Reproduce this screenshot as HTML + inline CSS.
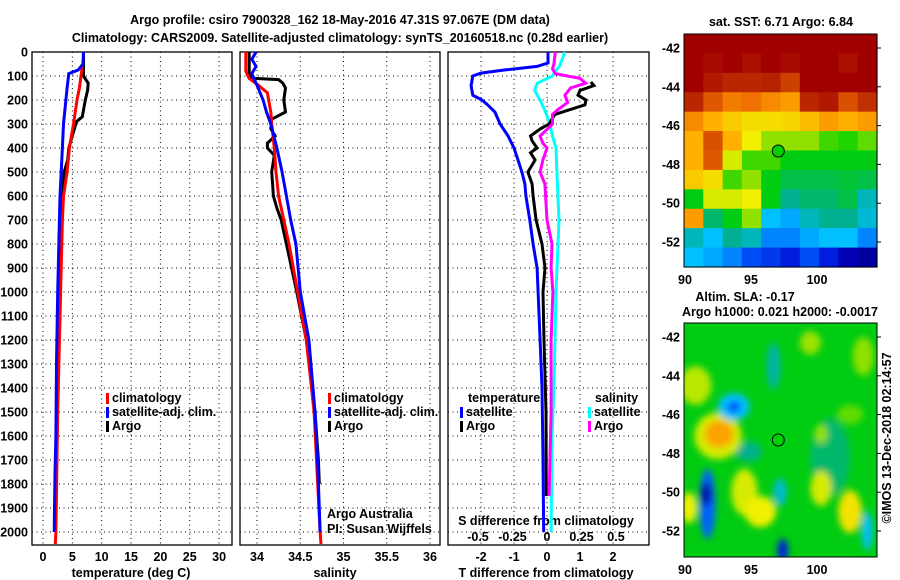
<!DOCTYPE html>
<html><head><meta charset="utf-8"><style>
html,body{margin:0;padding:0;background:#fff;}
svg{display:block;}
text{font-family:"Liberation Sans",Arial,sans-serif;font-weight:bold;font-size:12.5px;fill:#000;}
</style></head><body>
<svg id="s" width="900" height="580" viewBox="0 0 900 580" xmlns="http://www.w3.org/2000/svg">
<defs>
<clipPath id="c1"><rect x="32" y="34" width="200" height="511"/></clipPath>
<clipPath id="c2"><rect x="240" y="34" width="200" height="511"/></clipPath>
<clipPath id="c3"><rect x="448" y="34" width="201" height="511"/></clipPath>
<clipPath id="cm2"><rect x="684" y="323" width="193" height="234"/></clipPath>
<filter id="bl" x="-50%" y="-50%" width="200%" height="200%"><feGaussianBlur stdDeviation="3.5"/></filter>
</defs>
<text x="340" y="24" text-anchor="middle" font-size="13.5">Argo profile: csiro 7900328_162 18-May-2016 47.31S 97.067E (DM data)</text>
<text x="340" y="42" text-anchor="middle" font-size="13.5">Climatology: CARS2009. Satellite-adjusted climatology: synTS_20160518.nc (0.28d earlier)</text>
<g id="g"></g>
</svg>
<script>
// ---- data ----
const depthTicks=[0,100,200,300,400,500,600,700,800,900,1000,1100,1200,1300,1400,1500,1600,1700,1800,1900,2000];
const tempTicks=[0,5,10,15,20,25,30];
const salTicks=[34,34.5,35,35.5,36];
const salTickLabels=["34","34.5","35","35.5","36"];
const dTTicks=[-2,-1,0,1,2];
const dSTicks=[-0.5,-0.25,0,0.25,0.5];
const dSTickLabels=["-0.5","-0.25","0","0.25","0.5"];

const tSatDepth=[0,50,75,90,150,300,450,600,750,1000,1300,1600,1750,2000];
const tSatVal=[6.9,6.8,6.0,4.4,4.1,3.5,3.2,2.9,2.75,2.5,2.3,2.2,2.05,1.9];
const tClimDepth=[60,150,200,300,400,500,600,700,1000,1500,2000,2050];
const tClimVal=[6.7,6.2,5.8,5.2,4.5,4.1,3.5,3.3,3.0,2.5,2.2,2.1];
const tArgoDepth=[0,100,130,160,200,270,290,350,400,450,500,550,700,1000,1300,1600,1960];
const tArgoVal=[6.9,6.9,7.7,7.6,7.2,6.7,5.7,5.0,4.4,4.2,3.6,3.5,3.2,2.8,2.5,2.3,2.1];

const sSatDepth=[0,30,60,90,130,200,250,300,400,500,600,700,800,1000,1200,1500,1700,2000];
const sSatVal=[33.99,33.94,33.99,33.94,33.99,34.07,34.11,34.16,34.23,34.29,34.34,34.39,34.45,34.5,34.6,34.67,34.7,34.73];
const sClimDepth=[0,80,110,140,170,250,300,400,500,600,700,800,1000,1200,1500,2000,2050];
const sClimVal=[33.87,33.87,33.91,34.02,34.12,34.16,34.17,34.2,34.22,34.25,34.31,34.37,34.47,34.57,34.66,34.73,34.74];
const sArgoDepth=[0,100,110,115,130,150,200,250,280,320,350,380,400,430,500,550,600,650,700,800,1000,1200,1500,1700,1800];
const sArgoVal=[33.91,33.91,33.97,34.25,34.3,34.33,34.31,34.33,34.17,34.16,34.21,34.12,34.12,34.2,34.17,34.18,34.19,34.23,34.28,34.34,34.46,34.57,34.67,34.71,34.72];

const dTSatDepth=[0,46,60,75,88,100,140,180,200,220,250,300,350,400,450,500,550,600,700,800,900,1000,1200,1400,1700,2000];
const dTSatVal=[0.03,0.03,-0.3,-1.3,-2.0,-2.25,-2.3,-2.25,-1.97,-1.8,-1.58,-1.42,-1.18,-1.0,-0.88,-0.76,-0.67,-0.64,-0.52,-0.42,-0.3,-0.27,-0.21,-0.15,-0.12,-0.1];
const dTArgoDepth=[125,140,160,180,200,220,240,260,300,320,350,370,400,420,450,500,550,600,700,800,900,1000,1200,1500,1850];
const dTArgoVal=[1.33,1.42,1.0,0.94,1.18,1.15,0.7,0.24,0.06,-0.2,-0.5,-0.45,-0.3,-0.5,-0.36,-0.58,-0.45,-0.42,-0.33,-0.15,-0.06,-0.12,-0.09,-0.03,-0.02];
const dSSatDepth=[0,30,60,80,100,130,160,200,250,300,350,400,500,700,800,1000,1200,1400,1600,2000];
const dSSatVal=[0.13,0.11,0.09,0.06,0.04,-0.07,-0.09,-0.05,-0.01,0.02,0.04,0.065,0.072,0.087,0.08,0.065,0.058,0.05,0.036,0.03];
const dSArgoDepth=[0,50,70,90,110,130,150,180,210,240,260,300,350,380,400,450,500,550,600,700,800,900,1000,1200,1500,1850];
const dSArgoVal=[0.06,0.05,0.04,0.06,0.24,0.28,0.17,0.13,0.15,0.08,0.04,0.04,-0.05,-0.03,0,-0.03,-0.05,-0.015,-0.01,0,0.036,0.03,0.043,0.03,0.03,0.015];

const latTicks=[-42,-44,-46,-48,-50,-52];
const lonTicks=[90,95,100];
// SST field (colour-scale fraction), rows north->south, 10 columns west->east
const sstGrid=[
[1,1,1,1,1,1,1,1,1,1],
[1,0.98,1,0.97,1,0.98,1,1,0.97,1],
[1,0.95,0.92,0.92,0.93,0.88,1,1,1,1],
[0.92,0.85,0.8,0.82,0.78,0.75,0.92,0.95,0.86,0.9],
[0.78,0.72,0.68,0.65,0.65,0.66,0.7,0.75,0.72,0.75],
[0.72,0.86,0.72,0.62,0.55,0.55,0.55,0.5,0.48,0.52],
[0.72,0.85,0.6,0.5,0.5,0.45,0.45,0.45,0.45,0.45],
[0.68,0.65,0.5,0.55,0.45,0.42,0.42,0.42,0.43,0.42],
[0.45,0.6,0.6,0.62,0.45,0.38,0.4,0.4,0.42,0.35],
[0.75,0.4,0.45,0.55,0.3,0.28,0.35,0.38,0.38,0.33],
[0.35,0.3,0.38,0.35,0.25,0.25,0.28,0.3,0.3,0.25],
[0.3,0.28,0.25,0.2,0.18,0.15,0.2,0.15,0.08,0.05]];
const slaBase=0.45;
const blobLon=[101,94.8,92.5,92.6,90.8,93.7,93.7,91.7,91.6,94.5,95.7,90.3,100.3,102.5,97.4,103.8,96.7,99.5,103.5,100.3,102.5,97.2];
const blobLat=[-48.2,-47.9,-47.1,-47.0,-44.5,-45.6,-45.6,-50.6,-50.1,-50,-51,-50.8,-49.8,-51,-53,-52,-43.5,-42.3,-43,-47,-46,-50];
const blobRLon=[1.5,1,1.8,1.1,1.2,1.2,0.5,0.6,0.4,1,1.2,0.6,0.8,0.9,0.4,0.4,0.5,0.8,0.8,0.5,1,0.5];
const blobRLat=[2,0.5,1.2,0.7,1.0,0.7,0.3,1.8,0.6,1.2,0.8,0.8,0.9,1.1,0.6,1,1.2,0.6,1,0.5,0.5,0.7];
const blobVal=[0.4,0.38,0.6,0.74,0.58,0.3,0.2,0.22,0.06,0.6,0.62,0.62,0.6,0.64,0.15,0.3,0.36,0.56,0.55,0.55,0.52,0.33];

// ---- helpers ----
const NS="http://www.w3.org/2000/svg";
const G=document.getElementById('g');
function mk(tag,attrs,parent){const e=document.createElementNS(NS,tag);for(const k in attrs)e.setAttribute(k,attrs[k]);(parent||G).appendChild(e);return e;}
const yD=d=>52+0.24*d;
const x1=t=>43+5.87*t;
const x2=s=>257+86.5*(s-34);
const x3T=v=>547+33*v;
const x3S=v=>547+138*v;
const jetStops=[[0,[0,0,128]],[0.12,[0,0,208]],[0.22,[0,96,255]],[0.3,[0,192,255]],[0.38,[0,176,144]],[0.46,[0,208,0]],[0.55,[144,224,0]],[0.62,[240,240,0]],[0.72,[255,176,0]],[0.82,[240,112,0]],[0.9,[192,48,0]],[1,[160,0,0]]];
function cmap(v){v=Math.max(0,Math.min(1,v));for(let i=1;i<jetStops.length;i++){if(v<=jetStops[i][0]){const a=jetStops[i-1],b=jetStops[i];const f=(v-a[0])/(b[0]-a[0]);const c=a[1].map((q,j)=>Math.round(q+(b[1][j]-q)*f));return 'rgb('+c.join(',')+')';}}return 'rgb(160,0,0)';}

// ---- panels ----
const panels=[{x:32,w:200,n:'temperature-panel'},{x:240,w:200,n:'salinity-panel'},{x:448,w:201,n:'difference-panel'}];
panels.forEach((p,i)=>{
  const fr=mk('rect',{x:p.x,y:52,width:p.w,height:493,fill:'#fff',stroke:'#000','stroke-width':1.3});
  
  
  depthTicks.forEach(d=>{
    const l=mk('line',{x1:p.x,x2:p.x+p.w,y1:yD(d),y2:yD(d),stroke:'#000','stroke-dasharray':'1,3.5'});
    
    
  });
});
depthTicks.forEach(d=>{
  const t=mk('text',{x:28,y:yD(d)+4.5,'text-anchor':'end'});t.textContent=d;
  
  
});
function vgrid(xs,fn){xs.forEach(v=>{const x=fn(v);const l=mk('line',{x1:x,x2:x,y1:52,y2:545,stroke:'#000','stroke-dasharray':'1,3.5'});
  
  });}
vgrid(tempTicks,x1);vgrid(salTicks,x2);vgrid(dTTicks,x3T);
tempTicks.forEach(v=>{const t=mk('text',{x:x1(v),y:561,'text-anchor':'middle'});t.textContent=v;
  
  });
salTicks.forEach((v,i)=>{const t=mk('text',{x:x2(v),y:561,'text-anchor':'middle'});t.textContent=salTickLabels[i];
  
  });
dTTicks.forEach(v=>{const t=mk('text',{x:x3T(v),y:561,'text-anchor':'middle'});t.textContent=v;
  
  });
dSTicks.forEach((v,i)=>{const t=mk('text',{x:x3S(v),y:541,'text-anchor':'middle'});t.textContent=dSTickLabels[i];
  
  });
function lbl(x,y,s,name,anchor,extra){const t=mk('text',Object.assign({x:x,y:y,'text-anchor':anchor||'middle'},extra||{}));t.textContent=s;
  
  return t;}
lbl(131,577,'temperature (deg C)','temperature-axis-title');
lbl(335,577,'salinity','salinity-axis-title');
lbl(546,577,'T difference from climatology','t-difference-axis-title');
lbl(546,525,'S difference from climatology','s-difference-axis-title');

function line(ds,vs,fx,col,clip,name){
  const pts=ds.map((d,i)=>fx(vs[i]).toFixed(1)+','+yD(d).toFixed(1)).join(' ');
  const p=mk('polyline',{points:pts,fill:'none',stroke:col,'stroke-width':3,'stroke-linejoin':'miter','clip-path':'url(#'+clip+')'});
  
  
}
line(tArgoDepth,tArgoVal,x1,'#000','c1','temperature-argo-line');
line(tClimDepth,tClimVal,x1,'#f00','c1','temperature-climatology-line');
line(tSatDepth,tSatVal,x1,'#00f','c1','temperature-satellite-line');
line(sArgoDepth,sArgoVal,x2,'#000','c2','salinity-argo-line');
line(sClimDepth,sClimVal,x2,'#f00','c2','salinity-climatology-line');
line(sSatDepth,sSatVal,x2,'#00f','c2','salinity-satellite-line');
line(dTSatDepth,dTSatVal,x3T,'#00f','c3','t-diff-satellite-line');
line(dSSatDepth,dSSatVal,x3S,'#0ff','c3','s-diff-satellite-line');
line(dTArgoDepth,dTArgoVal,x3T,'#000','c3','t-diff-argo-line');
line(dSArgoDepth,dSArgoVal,x3S,'#f0f','c3','s-diff-argo-line');

function legend(x,y,col,s,name){const r=mk('rect',{x:x,y:y-9,width:3,height:11,fill:col});
  
  
  lbl(x+6,y,s,name,'start');}
legend(106,402,'#f00','climatology','legend-climatology');
legend(106,416,'#00f','satellite-adj. clim.','legend-satellite');
legend(106,430,'#000','Argo','legend-argo');
legend(328,402,'#f00','climatology','legend-climatology-2');
legend(328,416,'#00f','satellite-adj. clim.','legend-satellite-2');
legend(328,430,'#000','Argo','legend-argo-2');
lbl(468,402,'temperature','legend-temperature-heading','start');
legend(460,416,'#00f','satellite','legend-t-satellite');
legend(460,430,'#000','Argo','legend-t-argo');
lbl(595,402,'salinity','legend-salinity-heading','start');
legend(588,416,'#0ff','satellite','legend-s-satellite');
legend(588,430,'#f0f','Argo','legend-s-argo');
lbl(327,518,'Argo Australia','credit-argo-australia','start',{'font-weight':'normal','font-size':'11.5'});
lbl(327,533,'PI: Susan Wijffels','credit-pi','start',{'font-weight':'normal','font-size':'11.5'});

// ---- maps ----
const mx=lon=>685+13.2*(lon-90);
function mapAxes(top,bottom,name){
  const yl=lat=>top+14+19.4*(-42-lat);
  latTicks.forEach(l=>{lbl(680,yl(l)+4.5,String(l),name+'-lat-label','end');
    const tk=mk('line',{x1:877,x2:881,y1:yl(l),y2:yl(l),stroke:'#000'});
    
    });
  lonTicks.forEach(l=>lbl(mx(l),bottom+17,String(l),name+'-lon-label'));
  return yl;
}
// SST
const yl1=mapAxes(34,267,'sst-map');
const cw=193/10,ch=233/12;
sstGrid.forEach((row,r)=>row.forEach((v,c)=>{
  const e=mk('rect',{x:684+c*cw,y:34+r*ch,width:cw+0.6,height:ch+0.6,fill:cmap(v)});
  
  
}));
const f1=mk('rect',{x:684,y:34,width:193,height:233,fill:'none',stroke:'#000'});


const c1=mk('circle',{cx:mx(97.067),cy:yl1(-47.31),r:6,fill:cmap(0.46),stroke:'#000'});


lbl(781,26,'sat. SST: 6.71 Argo: 6.84','sst-map-title');
// SLA
const yl2=mapAxes(323,557,'sla-map');
const base=mk('rect',{x:684,y:323,width:193,height:234,fill:cmap(slaBase)});


const bg=mk('g',{'clip-path':'url(#cm2)'});
const bg2=mk('g',{filter:'url(#bl)'},bg);
blobVal.forEach((v,i)=>{
  const e=mk('ellipse',{cx:mx(blobLon[i]),cy:yl2(blobLat[i]),rx:blobRLon[i]*13.2,ry:blobRLat[i]*19.4,fill:cmap(v)},bg2);
  
  
});
const f2=mk('rect',{x:684,y:323,width:193,height:234,fill:'none',stroke:'#000'});


const c2=mk('circle',{cx:mx(97.067),cy:yl2(-47.31),r:6,fill:cmap(0.46),stroke:'#000'});


lbl(745,301,'Altim. SLA: -0.17','sla-map-title');
lbl(780,316,'Argo h1000: 0.021 h2000: -0.0017','sla-map-subtitle');
lbl(0,0,'©IMOS 13-Dec-2018 02:14:57','imos-timestamp','middle',{transform:'translate(891,438) rotate(-90)','font-weight':'normal','font-size':'12'});
</script>
</body></html>
